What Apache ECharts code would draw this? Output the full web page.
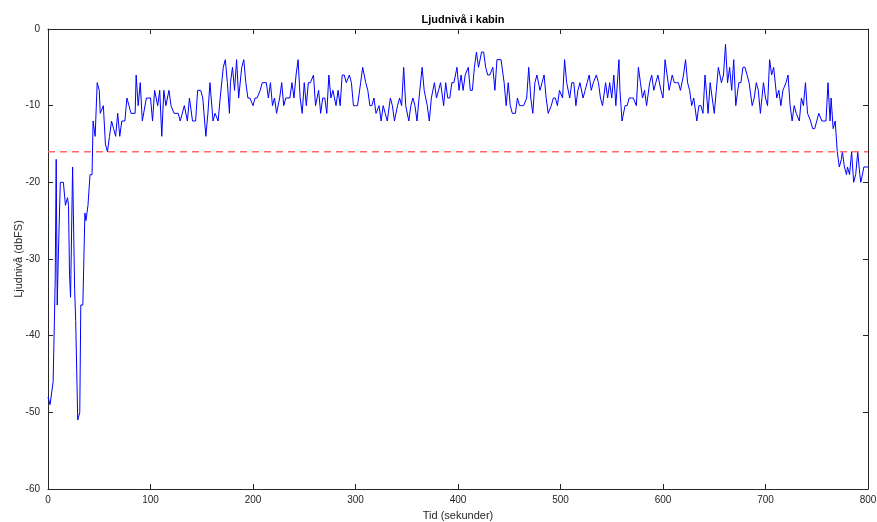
<!DOCTYPE html>
<html><head><meta charset="utf-8">
<script src="https://cdn.jsdelivr.net/npm/echarts@6/dist/echarts.min.js"></script>
<style>html,body{margin:0;padding:0;background:#fff}#c{width:877px;height:522px}</style>
</head><body><div id="c"></div>
<script>
const times = [0,2,3,5,6,7,8,9,10,12,15,17,19,20,21,22,24,26,27,29,31,32,34,36,37,39,41,43,44,46,48,50,51,54,56,58,60,62,64,66,68,70,72,75,77,79,81,85,86,88,90,92,96,100,102,104,107,109,111,113,115,118,120,123,127,129,133,136,138,141,144,146,149,151,154,156,158,161,163,166,168,171,173,175,177,178,180,182,184,186,189,191,193,195,197,200,202,204,207,209,213,215,217,219,221,223,226,228,230,232,236,238,240,242,244,246,248,250,252,254,256,259,261,264,266,268,270,272,274,276,278,281,283,285,287,289,291,294,296,298,300,302,305,307,310,312,314,316,318,320,323,325,327,329,331,334,336,338,341,343,345,347,349,352,354,356,358,360,362,365,367,370,372,374,377,379,381,383,386,388,390,392,394,396,399,401,403,405,407,410,412,414,416,418,420,423,425,427,429,431,434,436,438,440,442,445,447,449,451,453,456,458,460,462,464,467,469,471,473,475,477,480,482,484,486,488,491,493,495,497,499,502,504,506,509,511,513,515,517,519,522,524,526,528,530,532,535,537,539,541,544,546,548,550,552,554,557,558,560,563,565,567,569,571,574,576,578,580,582,584,587,589,591,593,595,598,600,602,604,606,609,611,613,615,617,620,622,624,626,628,630,633,635,637,639,641,644,646,648,650,652,654,657,659,661,663,665,667,669,671,674,676,678,680,682,684,687,689,691,693,695,698,700,702,704,706,708,711,713,715,717,720,722,724,726,728,730,733,735,737,739,741,744,746,748,750,752,755,757,759,761,763,764,766,768,770,772,774,775,777,779,780,782,784,786,788,790,792,793,796,800];
const levels = [-48,-49,-49,-46,-46,-33,-17,-36,-30,-20,-20,-23,-22,-23,-32,-35,-18,-34,-38,-51,-50,-36,-36,-24,-25,-23,-19,-19,-12,-14,-7,-8,-11,-10,-15,-16,-14,-12,-13,-14,-11,-14,-12,-12,-9,-10,-11,-11,-6,-10,-7,-12,-9,-9,-12,-8,-10,-8,-14,-8,-10,-8,-10,-11,-11,-12,-10,-12,-9,-12,-12,-8,-8,-9,-14,-11,-7,-12,-11,-12,-9,-5,-4,-7,-11,-7,-5,-8,-4,-9,-5,-4,-7,-9,-9,-10,-9,-9,-8,-7,-7,-9,-7,-10,-9,-11,-9,-7,-10,-9,-9,-7,-9,-6,-4,-9,-11,-7,-10,-7,-7,-6,-10,-8,-11,-9,-9,-11,-6,-9,-8,-10,-8,-10,-6,-6,-7,-6,-7,-10,-10,-10,-7,-5,-7,-8,-10,-10,-9,-11,-10,-12,-10,-11,-12,-9,-10,-12,-10,-9,-10,-5,-10,-12,-10,-9,-10,-12,-9,-5,-8,-10,-12,-9,-7,-9,-8,-7,-10,-7,-9,-9,-7,-7,-5,-8,-6,-8,-6,-5,-8,-8,-5,-3,-5,-3,-3,-5,-6,-6,-5,-8,-4,-4,-4,-7,-10,-7,-10,-11,-11,-9,-10,-10,-10,-9,-5,-9,-11,-7,-6,-8,-7,-6,-9,-11,-10,-9,-9,-10,-8,-9,-4,-7,-9,-7,-7,-10,-8,-7,-9,-8,-7,-6,-8,-7,-6,-7,-9,-10,-7,-9,-7,-9,-6,-10,-4,-8,-12,-10,-10,-9,-9,-9,-10,-5,-7,-9,-8,-10,-7,-6,-8,-7,-6,-8,-9,-4,-6,-8,-6,-7,-7,-7,-8,-6,-4,-7,-8,-10,-9,-12,-10,-10,-11,-6,-11,-7,-9,-11,-8,-5,-7,-6,-2,-7,-5,-8,-4,-10,-7,-7,-5,-5,-6,-7,-10,-9,-7,-8,-11,-7,-9,-10,-4,-6,-5,-9,-8,-10,-8,-7,-6,-10,-12,-10,-11,-12,-9,-10,-7,-11,-12,-13,-13,-12,-11,-12,-12,-12,-7,-12,-9,-13,-12,-16,-18,-17,-16,-18,-19,-18,-19,-16,-20,-19,-16,-19,-20,-18,-18];
const threshold = -16;
const xTicks = [0,100,200,300,400,500,600,700,800];
const yTicks = [-60,-50,-40,-30,-20,-10,0];

const lineData = times.map((t,i)=>[t, levels[i]]);
const refData = [[xTicks[0], threshold],[xTicks[xTicks.length-1], threshold]];

const chart = echarts.init(document.getElementById('c'), null, {renderer:'canvas'});
const axisCol = '#262626';
const font = 'Liberation Sans, Arial, Helvetica, sans-serif';
const baseX = {type:'value', min:0, max:800, interval:100, gridIndex:0,
  axisLine:{show:true, onZero:false, lineStyle:{color:axisCol, width:1}},
  axisTick:{show:true, inside:true, length:5, lineStyle:{color:axisCol}},
  splitLine:{show:false}};
const baseY = {type:'value', min:-60, max:0, interval:10, gridIndex:0,
  axisLine:{show:true, onZero:false, lineStyle:{color:axisCol, width:1}},
  axisTick:{show:true, inside:true, length:5, lineStyle:{color:axisCol}},
  splitLine:{show:false}};
chart.setOption({
  animation:false,
  backgroundColor:'#ffffff',
  title:{text:'Ljudnivå i kabin', left:458, top:9, textAlign:'center',
    textStyle:{fontFamily:font, fontSize:11, fontWeight:'bold', color:'#000'}},
  grid:{left:48, right:9, top:29, bottom:33, containLabel:false, outerBoundsMode:'none'},
  xAxis:[
    Object.assign({}, baseX, {position:'bottom', name:'Tid (sekunder)', nameLocation:'middle', nameGap:21,
      nameMoveOverlap:false,
      nameTextStyle:{fontFamily:font, fontSize:11, color:axisCol},
      axisLabel:{show:true, fontFamily:font, fontSize:10, color:axisCol, margin:6}}),
    Object.assign({}, baseX, {position:'top', axisLabel:{show:false}})
  ],
  yAxis:[
    Object.assign({}, baseY, {position:'left', name:'Ljudnivå (dbFS)', nameLocation:'middle', nameGap:24,
      nameMoveOverlap:false,
      nameTextStyle:{fontFamily:font, fontSize:11, color:axisCol},
      axisLabel:{show:true, fontFamily:font, fontSize:10, color:axisCol, margin:8}}),
    Object.assign({}, baseY, {position:'right', axisLabel:{show:false}})
  ],
  series:[
    {type:'line', data:lineData, xAxisIndex:0, yAxisIndex:0, showSymbol:false, symbol:'none',
      lineStyle:{color:'#0000ff', width:1}, z:3},
    {type:'line', data:refData, xAxisIndex:0, yAxisIndex:0, showSymbol:false, symbol:'none',
      lineStyle:{color:'#ff6b6b', width:1.5, type:[7,5]}, z:4}
  ]
});
</script></body></html>
